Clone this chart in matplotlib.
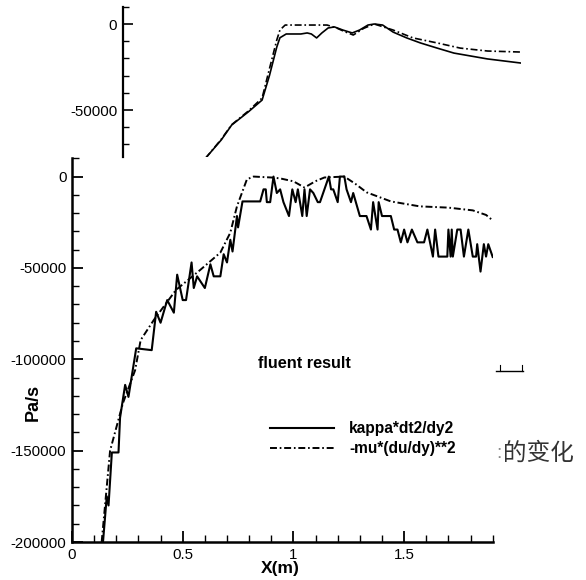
import matplotlib
matplotlib.use("Agg")
import matplotlib.pyplot as plt
from matplotlib.ticker import MultipleLocator, FuncFormatter
from matplotlib.lines import Line2D

plt.rcParams['font.family'] = ['Liberation Sans', 'DejaVu Sans']
plt.rcParams['lines.scale_dashes'] = False

# ---- main chart data (fluent result) ----
x_kappa = [0.14, 0.157, 0.165, 0.18, 0.21, 0.217, 0.24, 0.255, 0.29, 0.36, 0.38, 0.40, 0.43, 0.46,
           0.475, 0.50, 0.515, 0.54, 0.55, 0.565, 0.60, 0.625, 0.64, 0.67, 0.685, 0.70, 0.715, 0.725,
           0.745, 0.75, 0.77, 0.85, 0.865, 0.875, 0.88, 0.895, 0.91, 0.925, 0.94, 0.955, 0.98, 0.995,
           1.01, 1.02, 1.04, 1.05, 1.06, 1.075, 1.09, 1.11, 1.12, 1.14, 1.16, 1.17, 1.18, 1.20, 1.21,
           1.23, 1.24, 1.26, 1.27, 1.30, 1.33, 1.35, 1.36, 1.38, 1.385, 1.40, 1.44, 1.455, 1.47, 1.485,
           1.50, 1.515, 1.535, 1.56, 1.59, 1.605, 1.63, 1.64, 1.655, 1.675, 1.695, 1.70, 1.71, 1.715,
           1.72, 1.74, 1.755, 1.77, 1.79, 1.81, 1.825, 1.83, 1.845, 1.86, 1.87, 1.88, 1.90]
y_kappa = [-200000, -175000, -180000, -151000, -151000, -132000, -114000, -120600, -94000, -95000,
           -74000, -80000, -67600, -74500, -53700, -67600, -67600, -47000, -61000, -54600, -61000,
           -48000, -54600, -54600, -42500, -47000, -34600, -41000, -21600, -27800, -13600, -13600,
           -7000, -7000, -14000, -14000, 0, -9000, -7000, -14000, -21600, -7000, -14000, -7000,
           -21600, -7000, -21600, -7000, -9000, -14000, -14000, -7000, 0, -7000, -7000, -14000, 0,
           0, -7000, -14000, -9000, -21600, -21600, -29000, -14000, -29000, -14000, -21600, -21600,
           -29000, -29000, -36000, -29000, -36000, -29000, -36000, -36000, -29000, -43800, -29000,
           -43800, -43800, -43800, -29000, -43800, -29000, -43800, -29000, -29000, -43800, -29000,
           -43800, -43800, -37000, -52000, -37000, -43800, -37000, -44000]

x_mu = [0.134, 0.172, 0.23, 0.285, 0.31, 0.37, 0.47, 0.58, 0.67, 0.715, 0.745, 0.79, 0.82, 0.90,
        0.94, 1.0, 1.05, 1.10, 1.14, 1.23, 1.28, 1.33, 1.44, 1.57, 1.70, 1.81, 1.87, 1.90]
y_mu = [-200000, -150000, -124000, -106000, -89500, -78400, -62000, -51000, -41600, -30700,
        -16300, -1500, 0, -500, -1000, -2600, -6000, -2500, -500, 0, -4000, -8600, -13600,
        -16300, -17000, -18500, -21000, -24000]

# ---- top (partially covered) chart data ----
x_top_kappa = [0.36, 0.40, 0.47, 0.52, 0.60, 0.665, 0.70, 0.735, 0.75, 0.78, 0.85, 0.88, 0.90,
               0.925, 0.95, 0.98, 1.01, 1.05, 1.095, 1.13, 1.17, 1.20, 1.24, 1.29, 1.355, 1.42,
               1.50, 1.58, 1.66, 1.74, 1.82, 1.90]
y_top_kappa = [-85000, -77300, -67400, -58700, -51000, -44200, -30000, -13400, -8000, -5800,
               -5800, -5200, -5800, -8100, -5200, -2300, -1700, -3500, -5200, -3500, -600, 0,
               -600, -4700, -8100, -11000, -14000, -16900, -18600, -20300, -21500, -22700]
x_top_mu = [0.36, 0.40, 0.47, 0.52, 0.60, 0.665, 0.70, 0.735, 0.75, 0.775, 0.80, 0.975, 1.02,
            1.06, 1.10, 1.15, 1.20, 1.29, 1.385, 1.50, 1.61, 1.74, 1.90]
y_top_mu = [-85000, -77300, -67000, -58500, -50500, -43000, -26000, -9300, -3500, -600, -600,
            -600, -2300, -4500, -6400, -2500, 0, -3500, -8100, -11000, -14000, -15700, -16300]

legend_labels = ['kappa*dt2/dy2', '-mu*(du/dy)**2']
W, H = 586, 580

fig = plt.figure(figsize=(W / 100, H / 100), dpi=100)

def fx(px):
    return px / W

def fy(py):
    return 1 - py / H

DASHDOT = (0, (5, 2, 1.2, 2))

# top chart
axt = fig.add_axes([fx(122.7), fy(157), fx(521) - fx(122.7), fy(6.8) - fy(157)])
axt.plot(x_top_kappa, y_top_kappa, color='black', lw=1.2)
axt.plot(x_top_mu, y_top_mu, color='black', lw=1.2, linestyle=DASHDOT)
axt.set_xlim(0, 1.9)
axt.set_ylim(-77300, 10000)
for s in ['top', 'right', 'bottom']:
    axt.spines[s].set_visible(False)
axt.spines['left'].set_linewidth(1.6)
axt.set_xticks([])
axt.yaxis.set_major_locator(MultipleLocator(50000))
axt.yaxis.set_minor_locator(MultipleLocator(10000))
axt.yaxis.set_major_formatter(FuncFormatter(lambda v, p: '%d' % v))
axt.tick_params(axis='y', which='major', direction='in', length=7.5, width=1.2, pad=4, labelsize=10.8)
axt.tick_params(axis='y', which='minor', direction='in', length=4.5, width=1.0)
axt.patch.set_alpha(0)

# main chart
ax = fig.add_axes([fx(72), fy(542), fx(492.7) - fx(72), fy(158.3) - fy(542)])
ax.plot(x_kappa, y_kappa, color='black', lw=1.5, label=legend_labels[0])
ax.plot(x_mu, y_mu, color='black', lw=1.4, linestyle=DASHDOT, label=legend_labels[1])
ax.set_xlim(0, 1.9)
ax.set_ylim(-200000, 10000)
for s in ['top', 'right']:
    ax.spines[s].set_visible(False)
for s in ['left', 'bottom']:
    ax.spines[s].set_linewidth(1.8)
ax.xaxis.set_major_locator(MultipleLocator(0.5))
ax.xaxis.set_minor_locator(MultipleLocator(0.1))
ax.yaxis.set_major_locator(MultipleLocator(50000))
ax.yaxis.set_minor_locator(MultipleLocator(10000))
ax.xaxis.set_major_formatter(FuncFormatter(lambda v, p: '%g' % v))
ax.yaxis.set_major_formatter(FuncFormatter(lambda v, p: '%d' % v))
ax.tick_params(which='major', direction='in', length=7.7, width=1.3, pad=4, labelsize=10.8)
ax.tick_params(which='minor', direction='in', length=4.8, width=1.0)
ax.set_xlabel('X(m)', fontweight='bold', fontsize=12.5)
ax.set_ylabel('Pa/s', fontweight='bold', fontsize=13)
ax.yaxis.set_label_coords((33 - 72) / (492.7 - 72), (542 - 402) / (542 - 158.3))
ax.xaxis.set_label_coords((280 - 72) / (492.7 - 72), -(568 - 542) / (542 - 158.3))
ax.xaxis.label.set_va('center')
ax.yaxis.label.set_va('center')
ax.patch.set_alpha(0)

ax.text((304 - 72) / (492.7 - 72), (542 - 364) / (542 - 158.3), 'fluent result',
        transform=ax.transAxes, fontweight='bold', fontsize=11.7, ha='center', va='center')

leg = ax.legend(loc='upper left', bbox_to_anchor=(fx(270), fy(421.5)), bbox_transform=fig.transFigure,
                frameon=False, borderpad=0, borderaxespad=0, handlelength=4.1, handletextpad=1.0,
                labelspacing=0.3, prop={'weight': 'bold', 'size': 11.2})

# stray fragments from the source picture
fig.text(fx(496), fy(453), ':', fontsize=14, color='#888888', ha='left', va='center')
fig.text(fx(503), fy(453), '的变化', fontsize=17, color='#333333', ha='left', va='center',
         family=['Noto Sans CJK SC', 'DejaVu Sans'], fontweight='light')
fig.add_artist(Line2D([fx(496), fx(523)], [fy(371), fy(371)], color='black', lw=1.0))
fig.add_artist(Line2D([fx(500), fx(500)], [fy(365), fy(371)], color='black', lw=0.8))
fig.add_artist(Line2D([fx(522), fx(522)], [fy(365), fy(371)], color='black', lw=0.8))

fig.savefig('out.png', dpi=100)
